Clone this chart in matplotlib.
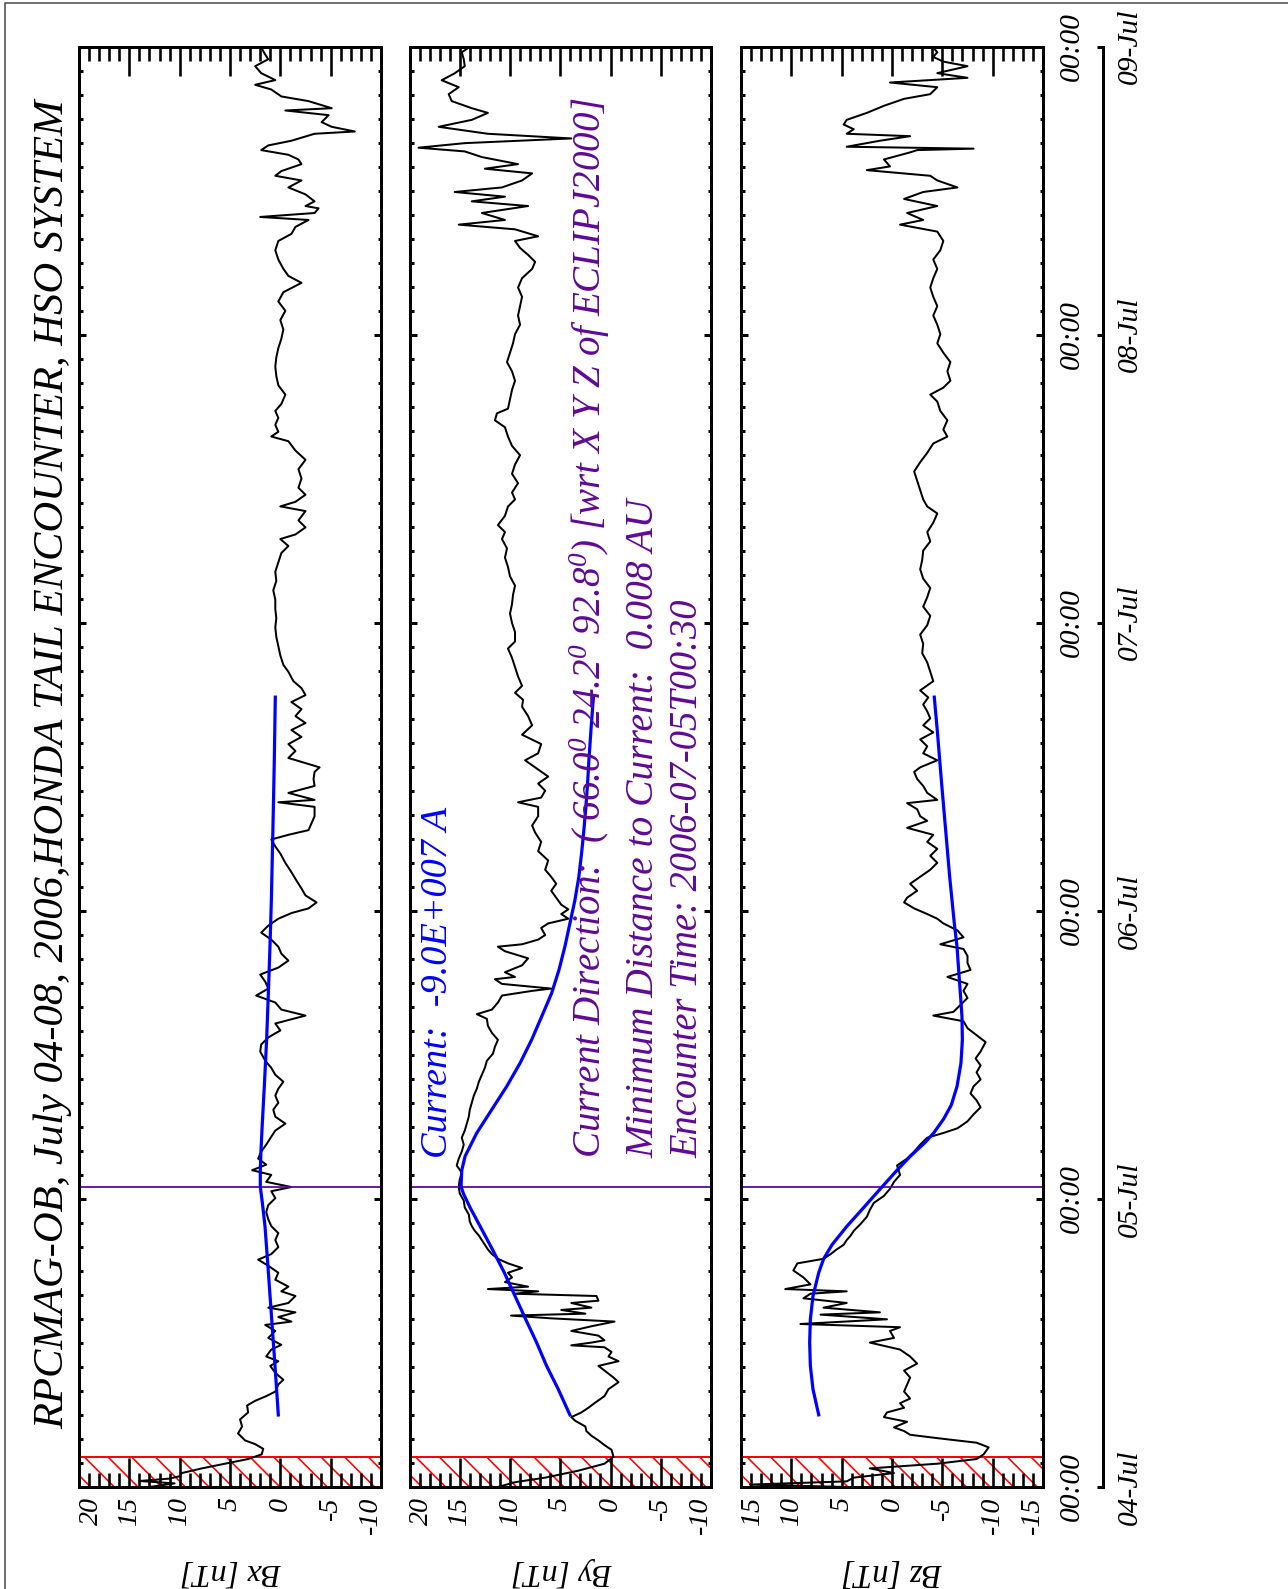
import numpy as np
import matplotlib
matplotlib.use('Agg')
import matplotlib.pyplot as plt
from matplotlib.patches import Rectangle
from matplotlib.ticker import MultipleLocator, FixedLocator

# ---------------- data (hours since 2006-07-04 00:00, nT) ----------------
bx_t = [0.0, 0.3, 0.5, 0.7, 0.9, 1.16, 1.55, 1.94, 2.33, 2.72, 3.18, 3.57, 3.88, 4.46, 5.04, 5.63, 6.21, 6.79,
        7.18, 7.57, 7.95, 8.54, 8.93, 9.51, 10.09, 10.48, 10.87, 11.45, 11.84, 12.42, 13.0, 13.5, 13.78, 14.16,
        14.55, 14.94, 15.33, 15.91, 16.3, 16.69, 17.27, 17.85, 18.43, 18.94, 19.4, 19.98, 20.57, 21.15, 21.73,
        22.31, 22.9, 23.48, 24.06, 24.64, 24.99, 25.42, 26.0, 26.39, 26.85, 27.36, 27.94, 28.52, 29.18, 29.69,
        30.27, 30.85, 31.43, 32.01, 32.6, 33.18, 33.76, 34.34, 34.92, 35.51, 36.28, 36.86, 37.45, 38.03, 38.61,
        39.27, 39.77, 40.36, 40.94, 41.52, 42.1, 42.69, 43.27, 43.85, 44.43, 45.01, 45.6, 46.18, 46.76, 47.34,
        47.81, 48.2, 48.7, 49.28, 49.86, 50.52, 51.22, 51.99, 52.77, 53.36, 53.94, 54.33, 54.72, 55.3, 55.88,
        56.66, 57.04, 57.24, 57.82, 58.4, 58.98, 59.57, 59.95, 60.73, 61.31, 61.89, 62.48, 63.06, 63.64, 64.22,
        64.8, 65.39, 65.97, 66.55, 67.13, 67.91, 68.49, 69.27, 70.04, 70.82, 71.6, 72.37, 73.15, 73.92, 74.7,
        75.48, 76.25, 77.03, 77.8, 78.39, 78.97, 79.35, 79.94, 80.52, 81.3, 81.69, 82.07, 82.66, 83.24, 84.01,
        84.79, 85.57, 86.34, 87.12, 87.51, 87.9, 88.48, 89.06, 89.64, 90.22, 91.0, 91.78, 92.55, 93.33, 94.1,
        94.88, 95.65, 96.43, 97.21, 97.98, 98.76, 99.53, 100.31, 100.89, 101.48, 102.25, 103.03, 103.8, 104.39,
        104.97, 105.55, 105.8, 106.13, 106.52, 106.71, 107.1, 107.68, 108.26, 108.84, 109.23, 109.62, 110.2,
        110.59, 110.98, 111.37, 111.76, 112.15, 112.73, 112.92, 113.31, 113.7, 114.28, 114.67, 114.86, 115.45,
        115.84, 116.42, 116.81, 117.2, 117.78, 118.36, 118.94, 119.33, 119.91]
bx_v = [13.0, 10.5, 14.0, 11.0, 10.0, 9.8, 7.8, 5.5, 3.2, 1.85, 1.7, 2.5, 3.5, 4.2, 3.8, 4.0, 3.2, 3.3,
        2.5, 1.4, 0.5, 0.2, -0.3, 0.5, 1.0, 0.2, 1.4, 0.9, -0.1, 1.2, 0.5, 1.5, -1.1, 0.2,
        -1.5, 1.2, -0.8, -1.5, -0.1, -0.8, 0.5, 0.2, 1.2, 2.2, 0.9, 0.2, 0.5, 0.2, 0.9,
        1.2, 1.4, 1.2, 0.5, 0.9, -1.1, 1.4, 0.9, 2.8, 1.4, 2.2, 1.9, 1.4, 0.9, 0.5,
        -0.5, 0.5, 0.7, 0.2, 0.5, 0.2, -0.3, 0.5, 0.9, 1.5, 2.0, 1.9, 1.2, 0.0, 0.5,
        -2.5, -0.1, 0.5, 2.4, 1.2, 1.5, 2.0, 0.2, -0.8, -0.1, 0.2, 0.9, 1.9, 1.2, 0.2,
        -1.1, -2.8, -3.6, -2.5, -2.1, -1.6, -1.1, -0.5, 0.0, 0.5, 0.9, -0.8, -2.8, -3.1, -3.4,
        -3.4, 0.2, -3.4, -0.8, -3.4, -3.3, -3.4, -3.9, -0.8, -1.5, -0.8, -2.1, -1.1, -2.5, -1.5,
        -2.1, -1.1, -2.5, -2.1, -1.3, -0.8, -0.3, 0.0, 0.2, 0.4, 0.5, 0.4, 0.5, 0.5, 0.7,
        0.4, 0.5, 0.2, -0.1, -0.8, 0.0, -1.5, -2.5, -1.8, -2.5, 0.0, -1.5, -2.5, -1.8, -2.1,
        -1.8, -2.5, -1.5, -0.8, 0.9, 0.2, 0.5, 0.2, 0.5, -0.1, -0.5, 0.2, 0.4, 0.5, 0.4,
        0.2, -0.1, -0.3, 0.0, -0.5, 0.2, -0.3, -2.1, -0.8, -0.3, 0.2, 0.5, 0.2, -1.1,
        -1.5, -2.8, 2.0, -3.4, -3.8, -2.5, -3.4, -2.5, -0.8, -2.1, 0.5, -0.1, -2.1,
        -1.8, -0.8, 1.9, 1.2, -1.1, -3.4, -7.4, -5.1, -4.1, -4.8, -0.5, -5.1, -2.8,
        -0.1, 0.9, 2.5, 0.5, 1.9, 2.5, 1.2, 1.5, 1.9]

by_t = [0.0, 0.4, 0.78, 1.36, 1.94, 2.52, 3.1, 3.49, 3.88, 4.27, 4.66, 5.04, 5.51, 5.82, 6.21, 6.6, 6.98,
        7.57, 8.15, 8.73, 9.12, 9.7, 10.09, 10.48, 10.87, 11.25, 11.64, 11.8, 12.03, 12.22, 12.61, 13.0, 13.39,
        13.78, 14.05, 14.28, 14.44, 14.75, 14.94, 15.33, 15.52, 15.91, 16.1, 16.3, 16.49, 16.69, 17.07, 17.46,
        17.85, 18.24, 18.63, 19.01, 19.4, 19.79, 20.18, 20.57, 20.95, 21.34, 21.73, 22.12, 22.7, 23.28, 23.86,
        24.45, 25.03, 25.61, 26.19, 26.78, 27.36, 27.94, 28.52, 29.1, 29.69, 30.27, 30.85, 31.43, 32.01, 32.6,
        33.18, 33.76, 34.34, 34.92, 35.51, 36.09, 36.67, 37.25, 37.83, 38.42, 39.0, 39.39, 39.77, 40.36, 40.94,
        41.33, 41.52, 41.91, 42.3, 42.49, 42.88, 43.46, 44.04, 44.63, 45.01, 45.21, 45.6, 45.98, 46.57, 46.95,
        47.34, 47.73, 48.12, 48.51, 49.09, 49.67, 50.25, 50.83, 51.42, 52.19, 52.97, 53.74, 54.52, 55.1, 55.88,
        56.66, 57.04, 57.43, 58.01, 58.6, 59.18, 59.95, 60.54, 61.12, 61.89, 62.67, 63.45, 64.22, 65.0, 65.58,
        66.16, 66.74, 67.52, 68.3, 69.07, 69.85, 70.43, 71.21, 71.98, 72.76, 73.54, 74.31, 75.09, 75.86, 76.64,
        77.42, 78.19, 78.97, 79.55, 80.13, 80.91, 81.68, 82.27, 82.85, 83.62, 84.4, 85.18, 85.95, 86.73, 87.5,
        88.28, 88.86, 89.44, 89.83, 90.61, 91.39, 92.16, 92.94, 93.71, 94.49, 95.27, 96.04, 96.82, 97.59, 98.37,
        99.15, 99.92, 100.7, 101.47, 102.06, 102.64, 103.22, 103.8, 104.19, 104.77, 105.16, 105.55, 106.13,
        106.71, 107.1, 107.49, 107.88, 108.26, 108.84, 109.43, 109.82, 110.2, 110.79, 111.26, 111.57, 111.95,
        112.34, 112.73, 113.31, 113.89, 114.47, 114.86, 115.45, 116.03, 116.61, 117.19, 117.77, 118.36, 118.94,
        119.52, 119.91]
by_v = [11.2, 9.5, 6.5, 3.2, 0.6, -0.3, -0.1, 0.6, 1.2, 1.9, 2.4, 2.5, 3.5, 3.9, 2.9, 2.2, 1.6,
        0.6, 0.2, -0.8, -0.3, 0.6, 1.2, -0.8, 0.2, -0.1, 0.6, 3.9, 1.9, 0.6, 1.2, 3.9, 1.9,
        -0.4, 5.9, 9.9, 2.5, 4.9, 1.9, 3.9, 1.2, 1.4, 9.5, 7.2, 12.2, 8.2, 10.5, 9.8,
        10.2, 8.8, 10.2, 11.2, 11.8, 12.2, 12.5, 12.8, 13.1, 13.5, 13.8, 14.0, 14.1, 14.5, 14.6,
        15.0, 15.1, 15.0, 14.8, 15.3, 15.1, 14.8, 14.6, 14.8, 14.5, 14.3, 14.1, 14.0, 13.8, 13.6,
        13.3, 13.1, 12.8, 12.5, 12.3, 11.7, 11.5, 11.2, 11.8, 12.2, 12.3, 13.3, 11.8, 11.2, 10.8,
        7.8, 5.9, 10.8, 11.5, 9.5, 10.5, 8.8, 8.2, 10.5, 11.2, 8.8, 7.2, 6.5, 6.9, 6.2,
        4.2, 4.9, 4.2, 4.9, 5.4, 5.9, 5.4, 5.9, 6.5, 6.2, 7.2, 6.9, 7.5, 7.8, 7.2,
        7.2, 9.2, 6.9, 6.5, 7.2, 6.2, 7.5, 8.5, 7.2, 6.9, 8.8, 7.8, 8.2, 8.8, 8.7,
        9.5, 8.8, 9.2, 9.5, 9.8, 10.2, 9.5, 9.5, 9.8, 10.0, 9.8, 9.7, 9.5, 10.0, 10.2,
        10.5, 10.3, 10.8, 10.5, 11.2, 10.5, 10.2, 9.5, 9.8, 9.2, 9.8, 9.5, 9.0, 9.8, 10.2,
        10.5, 11.5, 11.3, 10.2, 10.0, 9.8, 9.5, 9.8, 10.3, 10.0, 9.7, 9.5, 9.0, 9.2, 9.0,
        8.8, 9.2, 8.8, 7.8, 7.5, 8.2, 9.0, 9.5, 7.2, 9.5, 15.1, 10.5, 12.8,
        8.2, 13.8, 10.5, 15.5, 10.8, 8.8, 7.8, 12.5, 9.2, 12.8, 14.5, 19.1, 14.5,
        3.9, 12.2, 17.1, 13.8, 12.2, 13.8, 15.8, 16.1, 15.1, 16.8, 15.5, 14.5, 14.6,
        14.8, 14.1]

bz_t = [0.0, 0.2, 0.47, 0.78, 1.16, 1.55, 1.94, 2.33, 2.72, 3.3, 3.69, 4.07, 4.35, 4.66, 4.97, 5.43, 5.82,
        6.21, 6.6, 6.98, 7.37, 7.95, 8.54, 9.12, 9.7, 10.28, 10.87, 11.45, 12.03, 12.42, 13.0, 13.31, 13.58,
        13.97, 14.36, 14.55, 14.94, 15.33, 15.72, 16.1, 16.3, 16.49, 16.88, 17.46, 18.04, 18.63, 19.01, 19.4,
        19.79, 20.18, 20.57, 20.95, 21.34, 21.93, 22.51, 23.09, 23.67, 24.25, 24.84, 25.42, 26.0, 26.78, 27.36,
        27.94, 28.52, 29.1, 29.49, 29.88, 30.46, 31.04, 31.63, 32.21, 32.79, 33.37, 33.95, 34.54, 35.12, 35.7,
        36.28, 37.06, 37.64, 38.22, 38.8, 39.27, 39.58, 40.16, 40.74, 41.33, 41.91, 42.49, 43.07, 43.66, 44.24,
        44.82, 45.21, 45.79, 46.37, 46.95, 47.34, 47.73, 48.2, 48.7, 49.09, 49.67, 50.25, 50.83, 51.42, 52.0,
        52.58, 53.16, 53.74, 54.33, 54.91, 55.49, 55.88, 56.46, 56.97, 57.24, 57.82, 58.4, 58.98, 59.57, 59.95,
        60.54, 61.12, 61.7, 62.28, 62.86, 63.45, 64.03, 64.61, 65.19, 65.77, 66.36, 67.13, 67.91, 68.69, 69.46,
        70.24, 71.01, 71.79, 72.57, 73.34, 74.12, 74.89, 75.67, 76.45, 77.22, 78.0, 78.77, 79.55, 80.33, 81.1,
        81.68, 82.27, 83.04, 83.82, 84.6, 85.37, 86.15, 86.93, 87.5, 88.09, 88.86, 89.64, 90.42, 91.0, 91.58,
        92.16, 92.94, 93.71, 94.49, 95.27, 96.04, 96.82, 97.59, 98.37, 99.15, 99.92, 100.7, 101.47, 102.25,
        103.03, 103.8, 104.58, 105.16, 105.55, 106.13, 106.71, 107.3, 107.88, 108.26, 108.84, 109.23, 109.7,
        110.01, 110.59, 111.18, 111.37, 111.49, 111.65, 112.15, 112.53, 112.73, 113.11, 113.5, 113.89, 114.47,
        115.06, 115.64, 116.03, 116.61, 117.0, 117.39, 117.78, 118.36, 118.74, 119.13, 119.52, 119.91]
bz_v = [4.5, 14.1, 4.5, 3.8, -0.2, 2.2, -4.5, -8.4, -9.1, -9.6, -8.4, -4.5, -1.8, -1.2, -0.2, -1.5, 0.8,
        0.5, -1.2, -0.8, -1.8, -1.2, -1.5, -1.8, -1.2, -2.5, -1.8, -0.8, 2.2, -0.2, 0.2, -0.8, 9.1,
        0.5, 7.1, 1.2, 6.8, 4.5, 8.8, 8.1, 4.5, 10.6, 8.1, 8.8, 9.8, 9.4, 6.8, 6.1,
        5.5, 4.8, 4.5, 4.1, 3.8, 3.1, 2.5, 2.2, 1.8, 0.8, 0.2, -0.2, -0.8, -0.5, -1.5,
        -2.2, -2.8, -3.5, -5.1, -6.5, -7.5, -8.1, -8.8, -8.4, -7.8, -8.1, -8.8, -8.4, -8.8, -8.3,
        -8.8, -9.3, -8.4, -7.5, -7.1, -4.1, -6.1, -6.8, -7.5, -7.1, -7.5, -5.5, -7.8, -7.5, -7.5,
        -7.1, -4.8, -7.1, -6.5, -5.1, -4.5, -3.5, -2.2, -1.2, -1.5, -2.5, -1.8, -2.8, -3.8, -4.5,
        -3.8, -4.5, -3.5, -4.1, -1.5, -3.5, -2.8, -2.5, -1.5, -4.5, -3.5, -3.1, -2.5, -2.2, -2.8,
        -4.5, -3.1, -3.5, -2.8, -4.1, -3.1, -3.8, -3.5, -3.1, -3.6, -2.8, -4.1, -3.8, -3.5, -3.0,
        -3.1, -2.8, -3.5, -3.8, -3.1, -3.5, -3.8, -3.1, -2.8, -3.0, -3.1, -3.8, -3.5, -4.1, -4.5,
        -3.5, -3.1, -2.8, -2.5, -2.2, -2.8, -3.5, -4.1, -5.5, -5.1, -5.5, -4.8, -4.5, -3.8, -5.1,
        -5.8, -5.5, -5.8, -5.1, -4.5, -4.8, -4.5, -4.1, -4.5, -4.1, -3.8, -4.1, -4.5, -4.1,
        -4.8, -5.1, -4.5, -0.8, -3.1, -1.5, -4.5, -1.2, -3.1, -6.5, -4.5, -3.8, 2.5,
        0.2, 0.8, -1.8, -2.5, -8.1, 4.5, 1.2, -1.8, 4.5, 3.8, 4.8, 4.5, 2.5,
        0.8, -1.2, -3.8, -4.5, 0.2, -7.5, -4.5, -7.5, -5.1, -4.1, -4.5, -4.1]

# fitted current-sheet model (blue)
bxm_t = [6.0, 10.1, 14.0, 17.9, 21.7, 23.7, 25.0, 26.4, 27.9, 30.3, 33.4, 37.3, 41.1, 45.0, 48.9, 52.8, 56.7, 60.5, 65.8]
bxm_v = [0.2, 0.53, 0.86, 1.19, 1.52, 1.79, 1.99, 1.99, 1.93, 1.79, 1.59, 1.36, 1.19, 1.03, 0.89, 0.79, 0.69, 0.6, 0.5]
bym_t = [6.01, 8.15, 10.09, 12.03, 13.97, 15.91, 17.85, 19.79, 21.73, 23.28, 24.45, 25.03, 26.39, 27.55, 29.49,
         31.43, 33.37, 35.31, 37.25, 39.19, 41.13, 43.07, 45.01, 46.95, 48.89, 50.83, 52.77, 54.72, 56.66, 58.6,
         60.54, 63.0, 65.8]
bym_v = [4.04, 5.2, 6.36, 7.35, 8.44, 9.5, 10.56, 11.75, 12.98, 13.97, 14.64, 14.87, 14.8, 14.47, 13.31,
         11.82, 10.33, 9.0, 7.85, 6.85, 5.86, 5.13, 4.54, 4.04, 3.54, 3.15, 2.88, 2.65, 2.45, 2.28,
         2.15, 1.95, 1.7]
bzm_t = [6.01, 8.15, 10.09, 12.03, 13.97, 15.91, 17.85, 19.01, 20.18, 21.73, 23.28, 24.84, 26.39, 27.55, 28.72,
         29.49, 30.66, 31.82, 33.37, 35.31, 37.25, 39.19, 41.13, 43.07, 45.01, 46.95, 48.89, 50.83, 52.77, 54.72,
         56.66, 58.6, 60.54, 63.0, 65.8]
bzm_v = [7.28, 7.85, 8.11, 8.18, 8.11, 7.85, 7.28, 6.79, 5.96, 4.47, 2.81, 1.16, -0.5, -1.82, -3.31,
         -4.14, -5.13, -5.89, -6.46, -6.85, -6.99, -6.95, -6.79, -6.62, -6.46, -6.19, -5.96, -5.73, -5.53, -5.33,
         -5.13, -4.93, -4.74, -4.5, -4.2]

bx_ticks = [20, 15, 10, 5, 0, -5, -10]
by_ticks = [20, 15, 10, 5, 0, -5, -10]
bz_ticks = [15, 10, 5, 0, -5, -10, -15]
day_labels = ['04-Jul', '05-Jul', '06-Jul', '07-Jul', '08-Jul', '09-Jul']
hour_label = '00:00'
encounter_h = 25.0
masked_h = 2.5

title = 'RPCMAG-OB, July 04-08, 2006,HONDA TAIL ENCOUNTER, HSO SYSTEM'
txt_current = 'Current:  -9.0E+007 A'
txt_dir = r'Current Direction:  ( 66.0$^0$ 24.2$^0$ 92.8$^0$) [wrt X Y Z of ECLIPJ2000]'
txt_dist = 'Minimum Distance to Current:  0.008 AU'
txt_time = 'Encounter Time: 2006-07-05T00:30'

# ---------------- figure ----------------
DPI = 142
W, H = 1288, 1589


def P(px):
    return px * 72.0 / DPI


plt.rcParams['font.family'] = ['Liberation Serif', 'DejaVu Serif']
plt.rcParams['font.style'] = 'italic'
plt.rcParams['mathtext.fontset'] = 'custom'
plt.rcParams['mathtext.rm'] = 'Liberation Serif:italic'
plt.rcParams['mathtext.it'] = 'Liberation Serif:italic'
plt.rcParams['mathtext.default'] = 'it'
plt.rcParams['hatch.linewidth'] = P(1.6)
plt.rcParams['axes.unicode_minus'] = False

BLUE = '#0000FF'
PURPLE = '#5F0A96'

fig = plt.figure(figsize=(W / DPI, H / DPI), dpi=DPI)
fig.patch.set_facecolor('white')


def box(x0, x1, y0, y1):
    return [x0 / W, 1 - y1 / H, (x1 - x0) / W, (y1 - y0) / H]


TOP, BOT = 46.5, 1487
T0, T1 = 0, 120
FS_TICK = P(28)
FS_TIME = P(29.5)

panels = [
    (79, 381, (20, -10), bx_ticks, bx_t, bx_v, bxm_t, bxm_v, 'Bx [nT]', 231),
    (409.5, 711, (20, -10), by_ticks, by_t, by_v, bym_t, bym_v, 'By [nT]', 562),
    (741, 1043, (15, -15), bz_ticks, bz_t, bz_v, bzm_t, bzm_v, 'Bz [nT]', 892),
]

axes = []
labels_to_fit = []
for (x0, x1, lim, ticks, t, v, mt, mv, lab, labx) in panels:
    ax = fig.add_axes(box(x0, x1, TOP, BOT))
    ax.set_xlim(*lim)
    ax.set_ylim(T0, T1)
    ax.axhspan(0, masked_h, facecolor='none', edgecolor='red', hatch='\\\\', lw=P(2), zorder=1.5)
    ax.plot(v, t, color='black', lw=P(2.0), zorder=2)
    ax.plot(mv, mt, color=BLUE, lw=P(3.2), zorder=3)
    ax.axhline(encounter_h, color=PURPLE, lw=P(1.8), zorder=2.5)
    for s in ax.spines.values():
        s.set_linewidth(P(3))
    ax.xaxis.set_major_locator(FixedLocator(ticks))
    ax.xaxis.set_minor_locator(MultipleLocator(1))
    ax.yaxis.set_major_locator(MultipleLocator(24))
    ax.yaxis.set_minor_locator(MultipleLocator(2))
    ax.tick_params(axis='x', which='major', direction='in', top=True, bottom=True,
                   length=P(29), width=P(2.6), labelbottom=False)
    ax.tick_params(axis='x', which='minor', direction='in', top=True, bottom=True,
                   length=P(14), width=P(2.6))
    ax.tick_params(axis='y', which='major', direction='in', left=True, right=True,
                   length=P(7), width=P(3), labelleft=False)
    ax.tick_params(axis='y', which='minor', direction='in', left=True, right=True,
                   length=P(3.5), width=P(3))
    for i, tv in enumerate(ticks):
        dx = 12 if i == 0 else (-11 if i == len(ticks) - 1 else 0)
        ax.annotate(str(tv), xy=(tv, 0), xycoords=('data', 'axes fraction'),
                    xytext=(P(dx), -P(10)), textcoords='offset points',
                    rotation=90, ha='center', va='top', fontsize=FS_TICK)
    tl = fig.text(labx / W, 1 - 1572 / H, lab, rotation=180, ha='center', va='center', fontsize=FS_TIME)
    labels_to_fit.append((tl, 101, 'h'))
    axes.append(ax)

# time labels on the right of the Bz panel
axz = axes[2]
for k in range(len(day_labels)):
    axz.annotate(hour_label, xy=(1, 24 * k), xycoords=('axes fraction', 'data'),
                 xytext=(P(29), 0), textcoords='offset points',
                 rotation=90, ha='center', va='center', fontsize=FS_TIME)

# separate date axis line
axd = fig.add_axes(box(1090, 1103, TOP, BOT))
axd.set_ylim(T0, T1)
axd.patch.set_visible(False)
for nm in ['left', 'top', 'bottom']:
    axd.spines[nm].set_visible(False)
axd.spines['right'].set_linewidth(P(3))
axd.set_xticks([])
axd.yaxis.set_ticks_position('right')
axd.set_yticks([24 * k for k in range(len(day_labels))])
axd.tick_params(axis='y', direction='in', length=P(6), width=P(3), labelright=False)
for k, dl in enumerate(day_labels):
    axd.annotate(dl, xy=(1, 24 * k), xycoords=('axes fraction', 'data'),
                 xytext=(P(27), 0), textcoords='offset points',
                 rotation=90, ha='center', va='center', fontsize=FS_TIME)

# title and annotations
t_title = fig.text(53 / W, 1 - 1429 / H, title, rotation=90, ha='center', va='bottom', fontsize=20)
t_cur = fig.text(438 / W, 1 - 1158 / H, txt_current, rotation=90, ha='center', va='bottom',
                 fontsize=16, color=BLUE)
t_dir = fig.text(590 / W, 1 - 1158 / H, txt_dir, rotation=90, ha='center', va='bottom',
                 fontsize=16, color=PURPLE)
t_dist = fig.text(644 / W, 1 - 1158 / H, txt_dist, rotation=90, ha='center', va='bottom',
                  fontsize=16, color=PURPLE)
t_time = fig.text(688 / W, 1 - 1158 / H, txt_time, rotation=90, ha='center', va='bottom',
                  fontsize=16, color=PURPLE)

fit_items = [(t_title, 1331, 'v'), (t_cur, 352, 'v'), (t_dir, 1062, 'v'),
             (t_dist, 661, 'v'), (t_time, 560, 'v')] + labels_to_fit

for _ in range(3):
    fig.canvas.draw()
    r = fig.canvas.get_renderer()
    for tobj, target, along in fit_items:
        bb = tobj.get_window_extent(r)
        L = bb.height if along == 'v' else bb.width
        tobj.set_fontsize(tobj.get_fontsize() * target / L)

# outer frame
fig.add_artist(Rectangle((5 / W, -1), 2, 2 - 3 / H, transform=fig.transFigure,
                         fill=False, edgecolor='#444444', lw=P(1.5)))

fig.savefig('out.png', dpi=DPI, facecolor='white')
